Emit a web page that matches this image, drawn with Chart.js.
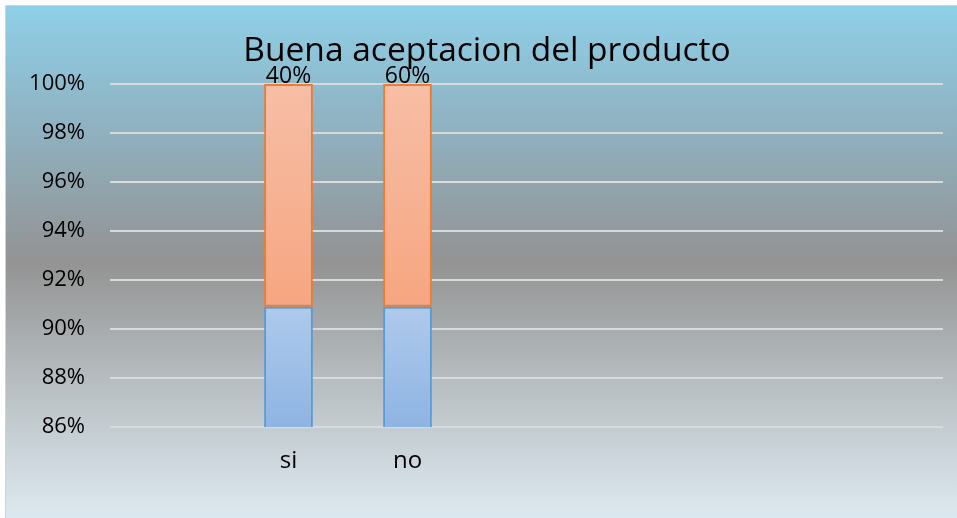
<!DOCTYPE html>
<html>
<head>
<meta charset="utf-8">
<script src="https://cdn.jsdelivr.net/npm/chart.js@4/dist/chart.umd.min.js"></script>
<style>
  html, body { margin: 0; padding: 0; background: #ffffff; }
  canvas { display: block; }
</style>
</head>
<body>
<canvas id="chart" width="957" height="518"></canvas>
<script>
// Categories (only "si" and "no" carry data; the other slots are empty columns)
const categories = ['', 'si', 'no', '', '', '', ''];
// Series 1: number of answers
const respuestas = [null, 4, 6, null, null, null, null];
// Series 2: percentage of answers (shown as the data label)
const porcentaje = [null, 0.4, 0.6, null, null, null, null];
// Value axis
const yMin = 0.86;
const yMax = 1.0;
const yStep = 0.02;
const titulo = 'Buena aceptacion del producto';

// 100% stacked shares
const totals = respuestas.map((v, i) => (v == null ? null : v + porcentaje[i]));
const shareRespuestas = respuestas.map((v, i) => (v == null ? null : v / totals[i]));
const sharePorcentaje = porcentaje.map((v, i) => (v == null ? null : v / totals[i]));

const pctLabel = v => Math.round(v * 100) + '%';

// Vertical gradient for one bar segment, from value top down to value bottom
function segmentGradient(ctx, top, bottom, c1, c2) {
  const chart = ctx.chart;
  if (!chart.chartArea) return c2;
  const y = chart.scales.y;
  const y0 = Math.max(y.getPixelForValue(top), chart.chartArea.top);
  const y1 = Math.min(y.getPixelForValue(bottom), chart.chartArea.bottom);
  const g = chart.ctx.createLinearGradient(0, y0, 0, y1);
  g.addColorStop(0, c1);
  g.addColorStop(1, c2);
  return g;
}

const backgroundPlugin = {
  id: 'backgroundPlugin',
  beforeDraw(chart) {
    const ctx = chart.ctx;
    const W = chart.width, H = chart.height;
    ctx.save();
    ctx.fillStyle = '#ffffff';
    ctx.fillRect(0, 0, W, H);
    const g = ctx.createLinearGradient(0, 5, 0, H);
    g.addColorStop(0.00, '#8ed0e8');
    g.addColorStop(0.22, '#8fb4c4');
    g.addColorStop(0.50, '#939393');
    g.addColorStop(0.75, '#b9c0c4');
    g.addColorStop(1.00, '#dde9f0');
    ctx.fillStyle = g;
    ctx.fillRect(5, 5, W - 5, H - 5);
    ctx.strokeStyle = '#d4d4d4';
    ctx.lineWidth = 1;
    ctx.beginPath();
    ctx.moveTo(5.5, H);
    ctx.lineTo(5.5, 5.5);
    ctx.lineTo(W, 5.5);
    ctx.stroke();
    ctx.restore();
  }
};

// Chart title and the percentage labels above each column
const textPlugin = {
  id: 'textPlugin',
  afterDatasetsDraw(chart) {
    const ctx = chart.ctx;
    ctx.save();
    ctx.fillStyle = '#000000';
    ctx.textAlign = 'center';
    ctx.textBaseline = 'alphabetic';

    ctx.font = '33.5px "Open Sans", sans-serif';
    ctx.fillText(titulo, 487, 61);

    ctx.font = '23px "Open Sans", sans-serif';
    const meta = chart.getDatasetMeta(1);
    meta.data.forEach((bar, i) => {
      if (porcentaje[i] == null) return;
      ctx.fillText(pctLabel(porcentaje[i]), bar.x, bar.y - 1.5);
    });
    ctx.restore();
  }
};

new Chart(document.getElementById('chart'), {
  type: 'bar',
  data: {
    labels: categories,
    datasets: [
      {
        label: 'respuestas',
        data: shareRespuestas,
        backgroundColor: ctx => segmentGradient(ctx, shareRespuestas[1], yMin, '#aecaeb', '#8eb4e3'),
        borderColor: '#5b9bd5',
        borderWidth: 2,
        borderSkipped: false
      },
      {
        label: 'porcentaje',
        data: sharePorcentaje,
        backgroundColor: ctx => segmentGradient(ctx, 1, shareRespuestas[1], '#f7bea6', '#f6a680'),
        borderColor: '#ed7d31',
        borderWidth: 2,
        borderSkipped: false
      }
    ]
  },
  options: {
    responsive: false,
    animation: false,
    layout: { padding: { top: 84, left: 5, right: 14, bottom: 0 } },
    datasets: {
      bar: { categoryPercentage: 1.0, barPercentage: 0.41 }
    },
    plugins: {
      legend: { display: false },
      tooltip: { enabled: false },
      title: { display: false }
    },
    scales: {
      x: {
        stacked: true,
        grid: { display: false, drawTicks: false },
        border: { display: false },
        ticks: {
          color: '#000000',
          font: { family: '"Open Sans", sans-serif', size: 24 },
          padding: 20,
          maxRotation: 0,
          autoSkip: false
        },
        afterFit(scale) { scale.height = 91; }
      },
      y: {
        stacked: true,
        min: yMin,
        max: yMax,
        grid: { color: '#d9d9d9', lineWidth: 2, drawTicks: false },
        border: { display: false },
        ticks: {
          stepSize: yStep,
          color: '#000000',
          font: { family: '"Open Sans", sans-serif', size: 22 },
          padding: 25,
          callback: v => pctLabel(v)
        },
        afterFit(scale) { scale.width = 105; }
      }
    }
  },
  plugins: [backgroundPlugin, textPlugin]
});
</script>
</body>
</html>
